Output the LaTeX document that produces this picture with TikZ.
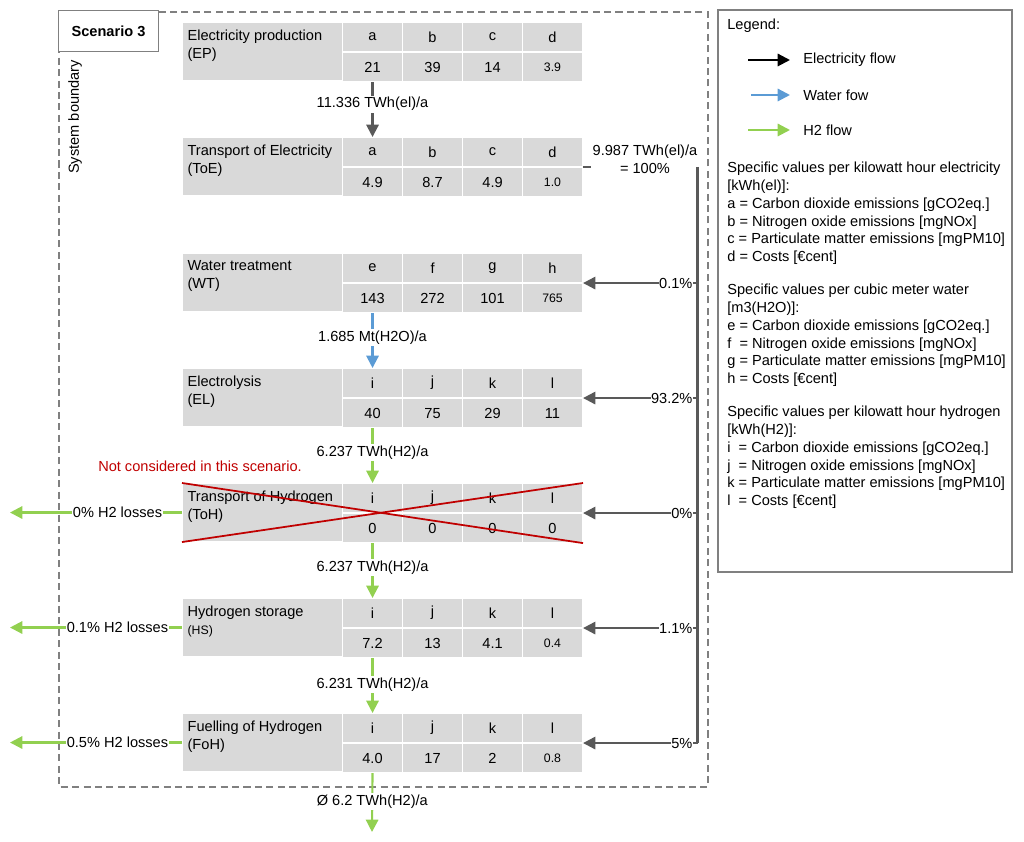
\documentclass[tikz,border=0pt]{standalone}
\usepackage{fontspec}
\setmainfont{Liberation Sans}
\usepackage{tikz}
\usetikzlibrary{arrows.meta, positioning, calc}
\definecolor{elgray}{RGB}{89,89,89}
\definecolor{waterblue}{RGB}{91,155,213}
\definecolor{htwogreen}{RGB}{146,208,80}
\definecolor{cellgray}{RGB}{217,217,217}
\definecolor{crossred}{RGB}{192,0,0}
\definecolor{boundgray}{RGB}{128,128,128}
\newcommand{\flowfont}{\fontsize{8.3}{10.1}\selectfont}
\newcommand{\smallval}{\fontsize{7}{8}\selectfont}
\tikzset{
  titlecell/.style={rectangle, fill=cellgray, draw=white, line width=0.6pt,
    anchor=north west, minimum width=3.2cm, minimum height=1.16cm, inner sep=0pt},
  titletext/.style={anchor=north west, align=left, inner sep=3pt, yshift=-1.2pt},
  headcell/.style={rectangle, fill=cellgray, draw=white, line width=0.6pt,
    anchor=north west, minimum width=1.2cm, minimum height=0.58cm, inner sep=0pt},
  valcell/.style={rectangle, fill=cellgray, draw=white, line width=0.6pt,
    minimum width=1.2cm, minimum height=0.58cm, inner sep=0pt},
  elarrow/.style={-{Triangle[width=7pt,length=7pt]}, line width=1.2pt, color=elgray},
  waterarrow/.style={-{Triangle[width=7pt,length=7pt]}, line width=1.2pt, color=waterblue},
  htwoarrow/.style={-{Triangle[width=7pt,length=7pt]}, line width=1.2pt, color=htwogreen},
  busline/.style={line width=1.4pt, color=elgray},
  flowlabel/.style={fill=white, inner sep=1pt, text=black},
  pct/.style={fill=white, inner xsep=0.3pt, inner ysep=1pt, anchor=east, xshift=-2pt, text=black},
  losslabel/.style={fill=white, inner xsep=0.3pt, inner ysep=1pt, text=black},
  crossline/.style={line width=1pt, color=crossred},
  boundary/.style={dash pattern=on 4pt off 2.5pt, color=boundgray, line width=0.6pt},
  scenbox/.style={rectangle, draw=boundgray, fill=white, line width=0.6pt,
    anchor=north west, minimum width=2cm, minimum height=0.82cm},
  legendbox/.style={draw=boundgray, line width=0.7pt}
}
% one process table: name, top y, title, letter/value pairs
\newcommand{\proctable}[4]{%
  \node[titlecell] (#1) at (3.64,#2) {};
  \node[titletext] (#1t) at (#1.north west) {#3};
  \foreach \l/\v [count=\i] in {#4} {
    \node[headcell] (#1l\i) at ({6.84+1.2*(\i-1)},#2) {\l};
    \node[valcell, below=0pt of #1l\i] (#1v\i) {\v};
  }
}

\begin{document}
\begin{tikzpicture}[every node/.style={font=\flowfont}]
  \useasboundingbox (0,0) rectangle (20.48,-16.84);

  % System boundary and scenario tag
  \draw[boundary] (1.18,-0.24) rectangle (14.16,-15.74);
  \node[scenbox] (scen) at (1.16,-0.2) {\textbf{Scenario 3}};
  \node[rotate=90] (sysb) at (1.5,-2.34) {System boundary};

  % Process tables
  \proctable{EP}{-0.44}{Electricity production\\(EP)}{a/21, b/39, c/14, d/{\smallval 3.9}}
  \proctable{ToE}{-2.74}{Transport of Electricity\\(ToE)}{a/4.9, b/8.7, c/4.9, d/{\smallval 1.0}}
  \proctable{WT}{-5.06}{Water treatment\\(WT)}{e/143, f/272, g/101, h/{\smallval 765}}
  \proctable{EL}{-7.36}{Electrolysis\\(EL)}{i/40, j/75, k/29, l/11}
  \proctable{ToH}{-9.66}{Transport of Hydrogen\\(ToH)}{i/0, j/0, k/0, l/0}
  \proctable{HS}{-11.96}{Hydrogen storage\\{\smallval (HS)}}{i/7.2, j/13, k/4.1, l/{\smallval 0.4}}
  \proctable{FoH}{-14.26}{Fuelling of Hydrogen\\(FoH)}{i/4.0, j/17, k/2, l/{\smallval 0.8}}

  % ToH is not considered
  \node[text=crossred] (note) at (4.0,-9.32) {Not considered in this scenario.};
  \draw[crossline] (ToH.north west) -- (ToHv4.south east);
  \draw[crossline] (ToH.south west) -- (ToHl4.north east);

  % Main flows
  \draw[elarrow] (EPv1.south) -- node[flowlabel, pos=0.4] {11.336 TWh(el)/a} (ToEl1.north);
  \draw[waterarrow] (WTv1.south) -- node[flowlabel, pos=0.45] {1.685 Mt(H2O)/a} (ELl1.north);
  \draw[htwoarrow] (ELv1.south) -- node[flowlabel, pos=0.45] {6.237 TWh(H2)/a} (ToHl1.north);
  \draw[htwoarrow] (ToHv1.south) -- node[flowlabel, pos=0.45] {6.237 TWh(H2)/a} (HSl1.north);
  \draw[htwoarrow] (HSv1.south) -- node[flowlabel, pos=0.48] {6.231 TWh(H2)/a} (FoHl1.north);
  \coordinate (htwoout) at (7.44,-16.64);
  \draw[htwoarrow] (FoHv1.south) -- node[flowlabel, pos=0.48] {Ø 6.2 TWh(H2)/a} (htwoout);

  % Electricity distribution
  \node[align=center, inner sep=1pt] (tot) at (12.9,-3.18) {9.987 TWh(el)/a\\= 100\%};
  \draw[busline] (ToEl4.south east) -- (ToEl4.south east -| tot.west);
  \coordinate (bus) at (13.95,0);
  \coordinate (bustop) at (13.95,-3.34);
  \draw[busline] (bustop) -- (FoHl4.south east -| bus);
  \draw[elarrow] (WTl4.south east -| bus) -- node[pct, pos=0] {0.1\%} (WTl4.south east);
  \draw[elarrow] (ELl4.south east -| bus) -- node[pct, pos=0] {93.2\%} (ELl4.south east);
  \draw[elarrow] (ToHl4.south east -| bus) -- node[pct, pos=0] {0\%} (ToHl4.south east);
  \draw[elarrow] (HSl4.south east -| bus) -- node[pct, pos=0] {1.1\%} (HSl4.south east);
  \draw[elarrow] (FoHl4.south east -| bus) -- node[pct, pos=0] {5\%} (FoHl4.south east);

  % H2 losses
  \coordinate (lossx) at (0.2,0);
  \draw[htwoarrow] (ToH.west) -- node[losslabel, pos=0.375] {0\% H2 losses} (ToH.west -| lossx);
  \draw[htwoarrow] (HS.west) -- node[losslabel, pos=0.375] {0.1\% H2 losses} (HS.west -| lossx);
  \draw[htwoarrow] (FoH.west) -- node[losslabel, pos=0.375] {0.5\% H2 losses} (FoH.west -| lossx);

  % Legend
  \draw[legendbox] (14.36,-0.2) rectangle (20.24,-11.44);
  \node[anchor=west, inner sep=0pt] (leg) at (14.54,-0.52) {Legend:};
  \node[anchor=west, inner sep=0pt] (lgel) at (16.06,-1.2) {Electricity flow};
  \node[anchor=west, inner sep=0pt] (lgwa) at (16.06,-1.9) {Water fow};
  \node[anchor=west, inner sep=0pt] (lght) at (16.06,-2.6) {H2 flow};
  \coordinate (lgelS) at (14.96,-1.2);
  \coordinate (lgwaS) at (15.02,-1.9);
  \coordinate (lghtS) at (14.96,-2.6);
  \draw[elarrow, color=black, shorten >=0.26cm] (lgelS) -- (lgel.west);
  \draw[waterarrow, shorten >=0.26cm] (lgwaS) -- (lgwa.west);
  \draw[htwoarrow, shorten >=0.26cm] (lghtS) -- (lght.west);
  \node[anchor=north west, align=left, inner sep=0pt] (legtxt) at (14.54,-3.24) {%
    Specific values per kilowatt hour electricity\\
    {[kWh(el)]:}\\
    a = Carbon dioxide emissions [gCO2eq.]\\
    b = Nitrogen oxide emissions [mgNOx]\\
    c = Particulate matter emissions [mgPM10]\\
    d = Costs [€cent]\\[8.8pt]
    Specific values per cubic meter water\\
    {[m3(H2O)]:}\\
    e = Carbon dioxide emissions [gCO2eq.]\\
    f\ \ = Nitrogen oxide emissions [mgNOx]\\
    g = Particulate matter emissions [mgPM10]\\
    h = Costs [€cent]\\[8.8pt]
    Specific values per kilowatt hour hydrogen\\
    {[kWh(H2)]:}\\
    i\ \ = Carbon dioxide emissions [gCO2eq.]\\
    j\ \ = Nitrogen oxide emissions [mgNOx]\\
    k = Particulate matter emissions [mgPM10]\\
    l\ \ = Costs [€cent]};
\end{tikzpicture}
\end{document}
